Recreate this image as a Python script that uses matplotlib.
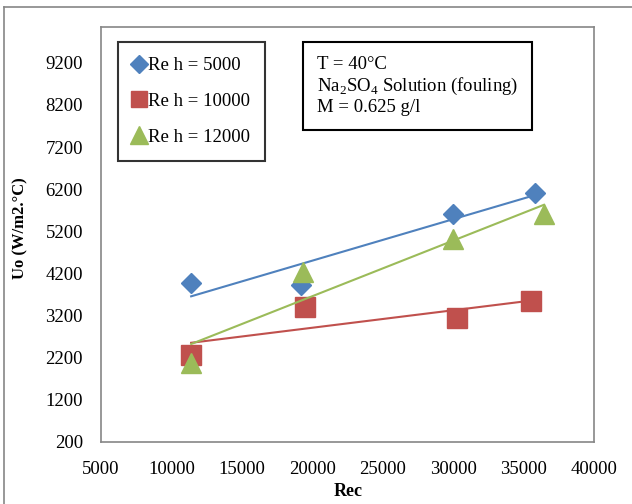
import matplotlib.pyplot as plt
import numpy as np
from matplotlib.lines import Line2D

plt.rcParams['font.family'] = ['Liberation Serif', 'DejaVu Serif']
plt.rcParams['mathtext.fontset'] = 'custom'
plt.rcParams['mathtext.rm'] = 'Liberation Serif'

# Re c and Uo for each Re h run
rec_5000 = [11400, 19200, 30000, 35800]
uo_5000 = [3970, 3920, 5620, 6120]
rec_10000 = [11400, 19500, 30300, 35500]
uo_10000 = [2260, 3400, 3140, 3540]
rec_12000 = [11400, 19350, 30000, 36450]
uo_12000 = [2070, 4230, 5010, 5600]

labels = ['Re h = 5000', 'Re h = 10000', 'Re h = 12000']
yticks = np.arange(200, 9201, 1000)
xticks = np.arange(5000, 40001, 5000)

fig = plt.figure(figsize=(6.32, 5.04), dpi=100)
ax = fig.add_axes([101/632, 1-442/504, 493/632, 415/504])

series = [
    (rec_5000, uo_5000, '#4F81BD', 'D', 10.5),
    (rec_10000, uo_10000, '#C0504D', 's', 14),
    (rec_12000, uo_12000, '#9BBB59', '^', 15),
]
for (x, y, c, m, ms), lab in zip(series, labels):
    ax.plot(x, y, linestyle='none', marker=m, markersize=ms, color=c, label=lab)
    # linear trendline
    k, b = np.polyfit(x, y, 1)
    xs = np.array([min(x), max(x)])
    ax.plot(xs, k*xs + b, color=c, linewidth=1.5)

ax.set_xlim(5000, 40000)
ax.set_ylim(200, 10050)
ax.set_xticks(xticks)
ax.set_yticks(yticks)
ax.tick_params(length=0, labelsize=13.5)
ax.tick_params(axis='y', pad=13)
ax.tick_params(axis='x', pad=14)
for s in ax.spines.values():
    s.set_color('#868686')
    s.set_linewidth(1.2)

fig.text(348/632, 1-491/504, 'Rec', ha='center', va='center', fontsize=13, fontweight='bold')
fig.text(20/632, 1-228/504, 'Uo (W/m2.°C)', ha='center', va='center', fontsize=12,
         fontweight='bold', rotation=90)

leg = ax.legend(loc='upper left', bbox_to_anchor=(118/632, 1-42/504),
                bbox_transform=fig.transFigure, fancybox=False, edgecolor='black',
                fontsize=13.5, labelspacing=1.0, handlelength=0.6, handletextpad=0.2,
                borderpad=0.8, borderaxespad=0, markerscale=0.85)
leg.get_frame().set_linewidth(1.5)

ax.text(317/632, 1-86/504,
        'T = 40°C\nNa$_2$SO$_4$ Solution (fouling)\nM = 0.625 g/l',
        transform=fig.transFigure, fontsize=13.5, va='center', ha='left', linespacing=1.15,
        bbox=dict(boxstyle='square,pad=0.75', facecolor='white', edgecolor='black', linewidth=1.5))

# outer chart border
fig.add_artist(Line2D([4/632, 4/632], [0, 1-7/504], color='#868686', linewidth=1.2))
fig.add_artist(Line2D([4/632, 1], [1-7/504, 1-7/504], color='#868686', linewidth=1.2))

fig.savefig('out.png', dpi=100)
